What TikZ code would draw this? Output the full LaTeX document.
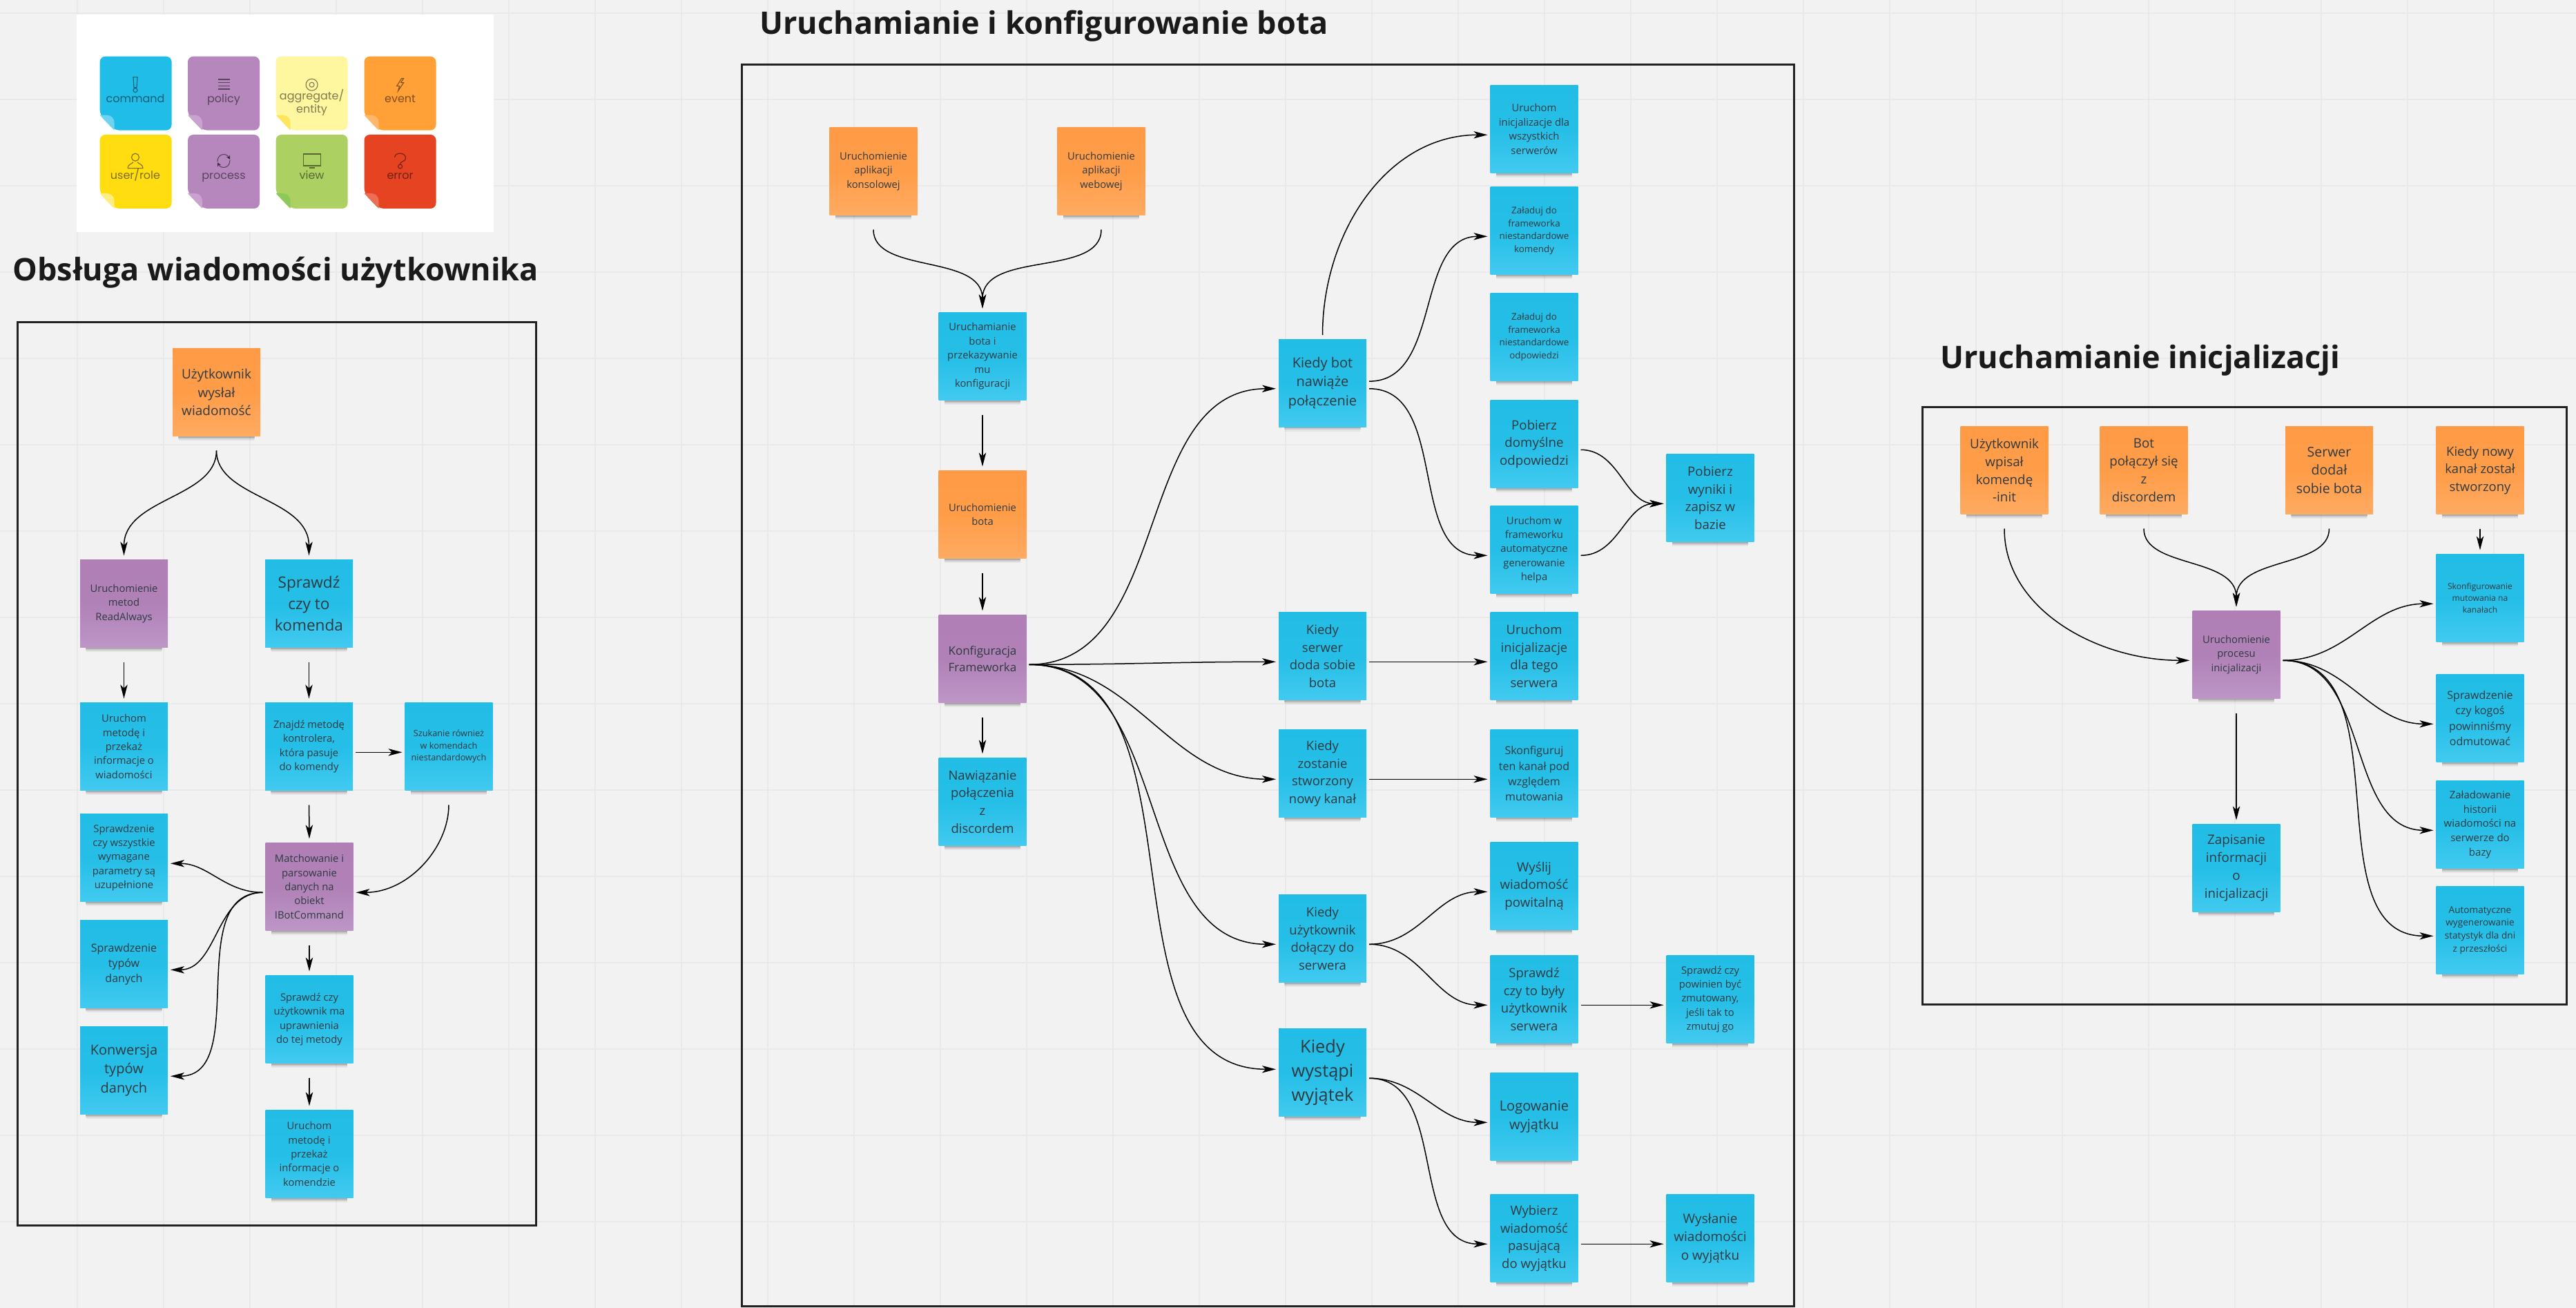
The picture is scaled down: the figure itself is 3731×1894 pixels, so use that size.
\documentclass[tikz,border=0pt]{standalone}
\usepackage{fontspec}
\setmainfont{Open Sans}
\newfontfamily\legendfont{Poppins}
\usepackage{xcolor}
\usepackage{tikz}
\usetikzlibrary{arrows.meta,shadows}

\definecolor{boardbg}{HTML}{F2F2F2}
\definecolor{boardline}{HTML}{E9E9E9}
\definecolor{panelline}{HTML}{222222}
\definecolor{titleink}{HTML}{1A1A1A}
\definecolor{noteink}{HTML}{2E3A40}
\definecolor{cmdtop}{HTML}{22BDE6}
\definecolor{cmdbot}{HTML}{42CAF0}
\definecolor{evttop}{HTML}{FF9B46}
\definecolor{evtbot}{HTML}{FFAB62}
\definecolor{poltop}{HTML}{AF7FB6}
\definecolor{polbot}{HTML}{BD96C6}
\definecolor{lgcyan}{HTML}{1FBDE8}
\definecolor{lgcyanf}{HTML}{6FD3F0}
\definecolor{lgpurple}{HTML}{B687BD}
\definecolor{lgpurplef}{HTML}{C9A3CE}
\definecolor{lgpale}{HTML}{FFF6A0}
\definecolor{lgpalef}{HTML}{FFE55C}
\definecolor{lgorange}{HTML}{FFA136}
\definecolor{lgorangef}{HTML}{FFB86B}
\definecolor{lgyellow}{HTML}{FFDD10}
\definecolor{lgyellowf}{HTML}{FFED80}
\definecolor{lggreen}{HTML}{ADD063}
\definecolor{lggreenf}{HTML}{8CC85A}
\definecolor{lgred}{HTML}{E64322}
\definecolor{lgredf}{HTML}{EC6F55}

\newcommand{\notefont}[1]{\pgfmathsetmacro\notefz{#1/2}\pgfmathsetmacro\notefl{#1*.69}\fontsize{\notefz}{\notefl}\selectfont}
\newcommand{\legendnote}[4]{%
  \begin{scope}[shift={(#1,#2)}]
    \fill[#3,rounded corners=4pt] (0,85) -- (0,0) -- (104,0) -- (104,107) -- (21,107) -- cycle;
    \fill[#4] (0,85) -- (10,85) .. controls (17,85) and (21,90) .. (21,96) -- (21,107) -- cycle;
  \end{scope}}

\tikzset{
  sticky/.style={rectangle, minimum width=63.5pt, minimum height=63.5pt, inner sep=0pt,
    outer xsep=2pt, outer ysep=3pt, align=center, text=noteink,
    general shadow={shadow scale=.86, shadow yshift=-9pt, fill=black, opacity=.05},
    general shadow={shadow scale=.87, shadow yshift=-7.2pt, fill=black, opacity=.10},
    general shadow={shadow scale=.87, shadow yshift=-6pt, fill=black, opacity=.16},
    general shadow={shadow scale=.88, shadow yshift=-4.8pt, fill=black, opacity=.28},
    execute at end node={\\[\dimexpr 3.5pt-\baselineskip\relax]},
    font=\notefont{#1}},
  sticky/.default=14.8,
  cmd/.style={sticky=#1, top color=cmdtop, bottom color=cmdbot, middle color=cmdtop!92!cmdbot},
  cmd/.default=14.8,
  evt/.style={sticky=#1, top color=evttop, bottom color=evtbot, middle color=evttop!92!evtbot},
  evt/.default=14.8,
  pol/.style={sticky=#1, top color=poltop, bottom color=polbot, middle color=poltop!92!polbot},
  pol/.default=14.8,
  flow/.style={every edge/.style={draw, black, line width=.75pt,
    -{Stealth[length=10pt,width=5.2pt,inset=2.6pt]}}},
  fromdown/.style={shorten <=7.5pt},
  vbend/.style={out=-90,in=90},
  hbend/.style={out=0,in=180},
  hback/.style={out=180,in=0},
  panel/.style={draw=panelline, line width=1.5pt},
  heading/.style={anchor=base west, inner sep=0pt, text=titleink, font=\fontsize{22.5}{26}\selectfont\bfseries},
  legendlab/.style={anchor=base, inner sep=0pt, align=center, text=black, opacity=.5,
    font=\legendfont\fontsize{8}{7.4}\selectfont},
  icon/.style={draw=black, line width=.55pt, opacity=.5}
}

\begin{document}
\begin{tikzpicture}[x=.5pt,y=-.5pt]
\useasboundingbox (0,0) rectangle (3731,1894);
\fill[boardbg] (0,0) rectangle (3731,1894);
\foreach \gx in {0,...,28}
  \draw[boardline,line width=1pt] ({111.7+125*\gx},0) -- ({111.7+125*\gx},1894);
\foreach \gy in {0,...,14}
  \draw[boardline,line width=1pt] (0,{19+125*\gy}) -- (3731,{19+125*\gy});

% legend
\fill[white] (111,21) rectangle (715,336);
\legendnote{144.6}{81.7}{lgcyan}{lgcyanf}
\legendnote{272}{81.7}{lgpurple}{lgpurplef}
\legendnote{399.6}{81.7}{lgpale}{lgpalef}
\legendnote{527.5}{81.7}{lgorange}{lgorangef}
\legendnote{144.6}{195}{lgyellow}{lgyellowf}
\legendnote{272}{195}{lgpurple}{lgpurplef}
\legendnote{399.6}{195}{lggreen}{lggreenf}
\legendnote{527.5}{195}{lgred}{lgredf}
\node[legendlab] (lcommand) at (196,148.3) {command};
\node[legendlab] (lpolicy) at (324,148.3) {policy};
\node[legendlab] (laggr) at (451.6,163.3) {aggregate/\\entity};
\node[legendlab] (levent) at (579.6,148.3) {event};
\node[legendlab] (luser) at (196,259.7) {user/role};
\node[legendlab] (lprocess) at (324,259.7) {process};
\node[legendlab] (lview) at (451.6,259.7) {view};
\node[legendlab] (lerror) at (579.6,259.7) {error};
\draw[icon,shift={(196,122.7)}] (-3,-11) -- (3,-11) -- (2,4) -- (-2,4) -- cycle (0,8) circle (3);
\foreach \ly in {-7,-2.3,2.3,7}
  \draw[icon,shift={(324,122)}] (-8.5,\ly) -- (8.5,\ly);
\draw[icon,shift={(451.6,122.7)}] (0,0) circle (8.5) (0,0) circle (3.5);
\draw[icon,shift={(579.6,122.7)}] (2,-9) -- (-5,2) -- (-1,2) -- (-3,9) -- (5,-3) -- (1,-3) -- (5,-9) -- cycle;
\draw[icon,shift={(196,233.7)}] (0,-6) circle (5.5)
  (-11,10) -- (11,10) .. controls (11,4) and (5,4) .. (3,1) (-3,1) .. controls (-5,4) and (-11,4) .. (-11,10);
\draw[icon,shift={(324,233)},-{Stealth[length=3pt,width=3pt]}] (-9,1) .. controls (-9,-11) and (4,-12) .. (9,-2);
\draw[icon,shift={(324,233)},-{Stealth[length=3pt,width=3pt]}] (9,-1) .. controls (9,11) and (-4,12) .. (-9,2);
\draw[icon,shift={(451.6,232)}] (-12.5,-9) rectangle (12.5,8) (-4,11) -- (4,11);
\draw[icon,shift={(579.6,233)}] (-8,-5) .. controls (-8,-13) and (8,-13) .. (8,-4) .. controls (8,1) and (0,1) .. (0,4) (0,8) circle (3);

% titles
\node[heading] (title1) at (18,406) {Obsługa wiadomości użytkownika};
\node[heading] (title2) at (1100,50) {Uruchamianie i konfigurowanie bota};
\node[heading] (title3) at (2810,533) {Uruchamianie inicjalizacji};

% frames
\draw[panel] (25,466) rectangle (776,1774);
\draw[panel] (1074,94) rectangle (2598,1891);
\draw[panel] (2784,589) rectangle (3717,1454);

% handling of a message
\node[evt=19] (msg) at (313.5,568) {Użytkownik\\wysłał\\wiadomość};
\node[pol] (readalw) at (179.5,874) {Uruchomienie\\metod\\ReadAlways};
\node[cmd=22.6] (iscmd) at (447.5,874) {Sprawdź\\czy to\\komenda};
\node[cmd] (runread) at (179.5,1081) {Uruchom\\metodę i\\przekaż\\informacje o\\wiadomości};
\node[cmd] (findm) at (447.5,1081) {Znajdź metodę\\kontrolera,\\która pasuje\\do komendy};
\node[cmd=12.7] (custom) at (650,1081) {Szukanie również\\w komendach\\niestandardowych};
\node[cmd] (required) at (179.5,1242) {Sprawdzenie\\czy wszystkie\\wymagane\\parametry są\\uzupełnione};
\node[cmd=16] (types) at (179.5,1396) {Sprawdzenie\\typów\\danych};
\node[cmd=20] (conv) at (179.5,1550) {Konwersja\\typów\\danych};
\node[pol] (parse) at (448,1284) {Matchowanie i\\parsowanie\\danych na\\obiekt\\IBotCommand};
\node[cmd] (perm) at (448,1476) {Sprawdź czy\\użytkownik ma\\uprawnienia\\do tej metody};
\node[cmd] (runcmd) at (448,1671) {Uruchom\\metodę i\\przekaż\\informacje o\\komendzie};

\path[flow]
  (msg.south) edge[fromdown,vbend] (readalw.north)
  (msg.south) edge[fromdown,vbend] (iscmd.north)
  (readalw.south) edge[fromdown] (runread.north)
  (iscmd.south) edge[fromdown] (findm.north)
  (findm.-7) edge (custom.187)
  (findm.south) edge[fromdown] (parse.north)
  (custom.south) edge[fromdown,out=-90,in=0] (parse.-7)
  (parse.187) edge[hback] (required.-7)
  (parse.187) edge[hback] (types.-7)
  (parse.187) edge[hback] (conv.-7)
  (parse.south) edge[fromdown] (perm.north)
  (perm.south) edge[fromdown] (runcmd.north);

% starting and configuring the bot
\node[evt] (console) at (1265,248) {Uruchomienie\\aplikacji\\konsolowej};
\node[evt] (web) at (1595,248) {Uruchomienie\\aplikacji\\webowej};
\node[cmd] (runbot) at (1423,516) {Uruchamianie\\bota i\\przekazywanie\\mu\\konfiguracji};
\node[evt] (botup) at (1423,745) {Uruchomienie\\bota};
\node[pol=17] (fwconf) at (1423,954) {Konfiguracja\\Frameworka};
\node[cmd=18.5] (connect) at (1423,1161) {Nawiązanie\\połączenia\\z\\discordem};
\node[cmd=20] (onconn) at (1915.5,554.5) {Kiedy bot\\nawiąże\\połączenie};
\node[cmd=18.5] (onguild) at (1915.5,950) {Kiedy\\serwer\\doda sobie\\bota};
\node[cmd=18.5] (onchan) at (1915.5,1120) {Kiedy\\zostanie\\stworzony\\nowy kanał};
\node[cmd=18.5] (onuser) at (1915.5,1359) {Kiedy\\użytkownik\\dołączy do\\serwera};
\node[cmd=25.4] (onexc) at (1915.5,1553) {Kiedy\\wystąpi\\wyjątek};
\node[cmd] (initall) at (2222,187) {Uruchom\\inicjalizacje dla\\wszystkich\\serwerów};
\node[cmd=13.4] (loadcmd) at (2222,334) {Załaduj do\\frameworka\\niestandardowe\\komendy};
\node[cmd=13.4] (loadresp) at (2222,488) {Załaduj do\\frameworka\\niestandardowe\\odpowiedzi};
\node[cmd=18.7] (defresp) at (2222,643) {Pobierz\\domyślne\\odpowiedzi};
\node[cmd] (genhelp) at (2222,796) {Uruchom w\\frameworku\\automatyczne\\generowanie\\helpa};
\node[cmd=18.7] (store) at (2477,721) {Pobierz\\wyniki i\\zapisz w\\bazie};
\node[cmd=18.5] (initone) at (2222,950) {Uruchom\\inicjalizacje\\dla tego\\serwera};
\node[cmd=16] (muteconf) at (2222,1120) {Skonfiguruj\\ten kanał pod\\względem\\mutowania};
\node[cmd=18.7] (greet) at (2222,1283) {Wyślij\\wiadomość\\powitalną};
\node[cmd=18.5] (wasuser) at (2222,1447) {Sprawdź\\czy to były\\użytkownik\\serwera};
\node[cmd] (remute) at (2477,1447) {Sprawdź czy\\powinien być\\zmutowany,\\jeśli tak to\\zmutuj go};
\node[cmd=20] (logexc) at (2222,1617) {Logowanie\\wyjątku};
\node[cmd=18.5] (pickmsg) at (2222,1793) {Wybierz\\wiadomość\\pasującą\\do wyjątku};
\node[cmd=19] (sendmsg) at (2477,1793) {Wysłanie\\wiadomości\\o wyjątku};

\path[flow]
  (console.south) edge[fromdown,vbend] (runbot.north)
  (web.south) edge[fromdown,vbend] (runbot.north)
  (runbot.south) edge[fromdown] (botup.north)
  (botup.south) edge[fromdown] (fwconf.north)
  (fwconf.south) edge[fromdown] (connect.north)
  (fwconf.-7) edge[hbend] (onconn.187)
  (fwconf.-7) edge[hbend] (onguild.187)
  (fwconf.-7) edge[hbend] (onchan.187)
  (fwconf.-7) edge[hbend] (onuser.187)
  (fwconf.-7) edge[hbend] (onexc.176)
  (onconn.north) edge[out=90,in=180] (initall.187)
  (onconn.2) edge[hbend] (loadcmd.187)
  (onconn.-7) edge[hbend] (genhelp.187)
  (defresp.-7) edge[hbend] (store.187)
  (genhelp.-7) edge[hbend] (store.187)
  (onguild.-7) edge (initone.187)
  (onchan.-7) edge (muteconf.187)
  (onuser.-7) edge[hbend] (greet.187)
  (onuser.-7) edge[hbend] (wasuser.187)
  (wasuser.-7) edge (remute.187)
  (onexc.-7) edge[hbend] (logexc.187)
  (onexc.-7) edge[hbend] (pickmsg.187)
  (pickmsg.-7) edge (sendmsg.187);

% starting the initialization
\node[evt=18.8] (typed) at (2903,681) {Użytkownik\\wpisał\\komendę\\-init};
\node[evt=18.8] (joined) at (3105,681) {Bot\\połączył się\\z\\discordem};
\node[evt=19.5] (added) at (3373.5,681) {Serwer\\dodał\\sobie bota};
\node[evt=18.5] (newchan) at (3592,681) {Kiedy nowy\\kanał został\\stworzony};
\node[pol] (initproc) at (3239,948) {Uruchomienie\\procesu\\inicjalizacji};
\node[cmd=18.8] (saveinit) at (3239,1257) {Zapisanie\\informacji\\o\\inicjalizacji};
\node[cmd=12.1] (mutechan) at (3592,866) {Skonfigurowanie\\mutowania na\\kanałach};
\node[cmd=16] (unmute) at (3592,1040) {Sprawdzenie\\czy kogoś\\powinniśmy\\odmutować};
\node[cmd=15] (history) at (3592,1194) {Załadowanie\\historii\\wiadomości na\\serwerze do\\bazy};
\node[cmd=13.6] (stats) at (3592,1347) {Automatyczne\\wygenerowanie\\statystyk dla dni\\z przeszłości};

\path[flow]
  (typed.south) edge[fromdown,out=-90,in=180] (initproc.187)
  (joined.south) edge[fromdown,vbend] (initproc.north)
  (added.south) edge[fromdown,vbend] (initproc.north)
  (newchan.south) edge[fromdown] (mutechan.north)
  (initproc.-7) edge[hbend] (mutechan.187)
  (initproc.-7) edge[hbend] (unmute.187)
  (initproc.-7) edge[hbend] (history.187)
  (initproc.-7) edge[hbend] (stats.187)
  (initproc.south) edge[fromdown] (saveinit.north);
\end{tikzpicture}
\end{document}
